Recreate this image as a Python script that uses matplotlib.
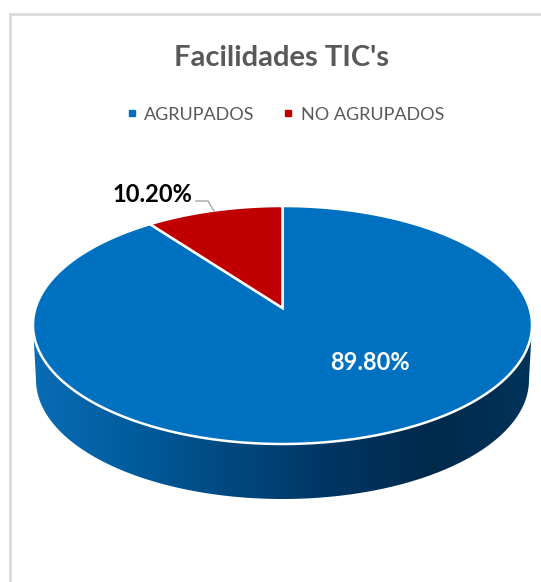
import numpy as np
import matplotlib
matplotlib.use('Agg')
import matplotlib.pyplot as plt
from matplotlib.colors import LinearSegmentedColormap
from matplotlib.lines import Line2D
from matplotlib.patches import Polygon

categories = ['AGRUPADOS', 'NO AGRUPADOS']
values = [89.8, 10.2]
labels = ['89.80%', '10.20%']
colors = ['#0070c0', '#c00000']
side_colors = ['#0a6cb6', '#005c9c', '#00487e', '#003562', '#002a4c', '#00335a']

plt.rcParams['font.family'] = ['Lato', 'DejaVu Sans']

# pie geometry in pixels
cx, cy = 282.5, 325
a, b = 249.5, 119
depth = 55
tilt = 17 / b   # apex sits above the ellipse centre because of the perspective


def project(theta):
    # clockwise angle from 12 o'clock on the flat pie -> pixel on the tilted rim
    x, y = np.sin(theta), np.cos(theta)
    d = 1 + tilt * y
    return cx + a * x * np.sqrt(1 - tilt ** 2) / d, cy - b * (y + tilt) / d


fig = plt.figure(figsize=(5.41, 5.82), dpi=100)
ax = fig.add_axes([0, 0, 1, 1])
ax.set_xlim(0, 541)
ax.set_ylim(582, 0)
ax.axis('off')

# chart frame, runs off the right and bottom of the picture
ax.plot([10, 10, 545], [590, 14, 14], color='#d9d9d9', lw=1.9, solid_joinstyle='miter')

# side of the disc
t = np.linspace(-np.pi / 2, np.pi / 2, 200)
low_x = cx + (a - 3) * np.sin(t)
low_y = cy + depth + b * np.cos(t)
side_pts = np.concatenate([[[cx - a, cy]], np.column_stack([low_x, low_y]), [[cx + a, cy]]])
side = Polygon(side_pts, closed=True, fc='none', ec='none')
ax.add_patch(side)
cmap = LinearSegmentedColormap.from_list('side', side_colors)
im = ax.imshow(np.linspace(0, 1, 256)[None, :], cmap=cmap, aspect='auto',
               extent=[cx - a, cx + a, cy + depth + b, cy], zorder=1)
im.set_clip_path(side)
ax.set_xlim(0, 541)
ax.set_ylim(582, 0)

# top face, slices start at 12 o'clock and the first one goes clockwise
apex = (cx, cy - b * tilt)
start = 0
for val, col in zip(values, colors):
    th = np.linspace(start, start + val / 100 * 2 * np.pi, 300)
    rx, ry = project(th)
    pts = np.column_stack([np.r_[apex[0], rx], np.r_[apex[1], ry]])
    ax.add_patch(Polygon(pts, closed=True, fc=col, ec='white', lw=1.8, zorder=2, joinstyle='miter'))
    start += val / 100 * 2 * np.pi

ax.text(282, 57.5, "Facilidades TIC's", color='#595959', fontsize=21, fontweight='bold',
        ha='center', va='center')

handles = [Line2D([], [], ls='none', marker='s', ms=4.5, color=c) for c in colors]
ax.legend(handles, categories, loc='center', bbox_to_anchor=(282.5 / 541, 1 - 114.5 / 582), ncols=2,
          frameon=False, fontsize=13, labelcolor='#595959', columnspacing=1.25,
          handletextpad=0.1, handlelength=1.2)

ax.text(370, 362, labels[0], color='white', fontsize=17, fontweight='bold', ha='center', va='center')
ax.text(152, 194, labels[1], color='black', fontsize=17, fontweight='bold', ha='center', va='center')
ax.plot([196, 208, 214], [201, 201, 211], color='#a6a6a6', lw=1, zorder=3)

fig.savefig('out.png', dpi=100)
